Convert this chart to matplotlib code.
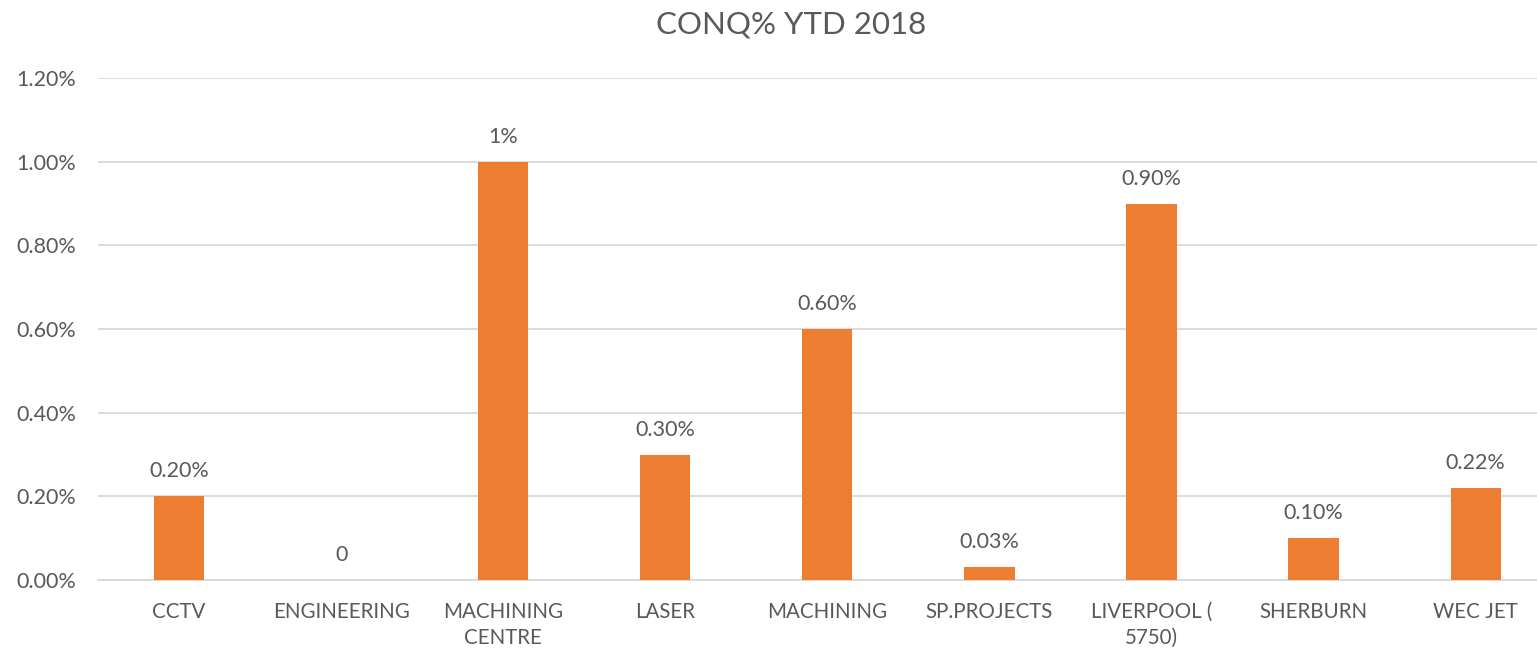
import matplotlib.pyplot as plt
from matplotlib.ticker import FuncFormatter

categorias = ['CCTV', 'ENGINEERING', 'MACHINING\nCENTRE', 'LASER', 'MACHINING',
              'SP.PROJECTS', 'LIVERPOOL (\n5750)', 'SHERBURN', 'WEC JET']
valores = [0.0020, 0.0, 0.0100, 0.0030, 0.0060, 0.0003, 0.0090, 0.0010, 0.0022]
rotulos = ['0.20%', '0', '1%', '0.30%', '0.60%', '0.03%', '0.90%', '0.10%', '0.22%']

plt.rcParams['font.family'] = ['Lato', 'DejaVu Sans']
cor_texto = '#595959'

fig = plt.figure(figsize=(15.37, 6.52), dpi=100)
ax = fig.add_axes([0.0638, 0.1104, 0.949, 0.7696])

x = range(len(categorias))
ax.bar(x, valores, width=0.31, color='#ED7D31', zorder=3)

# rótulos de valor acima das barras
for xi, v, r in zip(x, valores, rotulos):
    ax.text(xi, v + 0.00036, r, ha='center', va='bottom', fontsize=15.5, color=cor_texto)

ax.set_xlim(-0.5, len(categorias) - 0.5)
ax.set_ylim(0, 0.012)
ax.set_yticks([i * 0.002 for i in range(7)])
ax.yaxis.set_major_formatter(FuncFormatter(lambda v, p: f'{v * 100:.2f}%'))
ax.set_xticks(list(x))
ax.set_xticklabels(categorias, fontsize=14.8, color=cor_texto, linespacing=1.35)
ax.tick_params(axis='y', labelsize=15.5, labelcolor=cor_texto, length=0, pad=16)
ax.tick_params(axis='x', length=0, pad=16)

ax.grid(axis='y', color='#D9D9D9', linewidth=1.3, zorder=0)
for s in ['top', 'right', 'left']:
    ax.spines[s].set_visible(False)
ax.spines['bottom'].set_color('#D9D9D9')
ax.spines['bottom'].set_linewidth(1.3)

fig.text(0.515, 0.962, 'CONQ% YTD 2018', ha='center', va='center', fontsize=22.5, color=cor_texto)

plt.savefig('out.png', dpi=100)
